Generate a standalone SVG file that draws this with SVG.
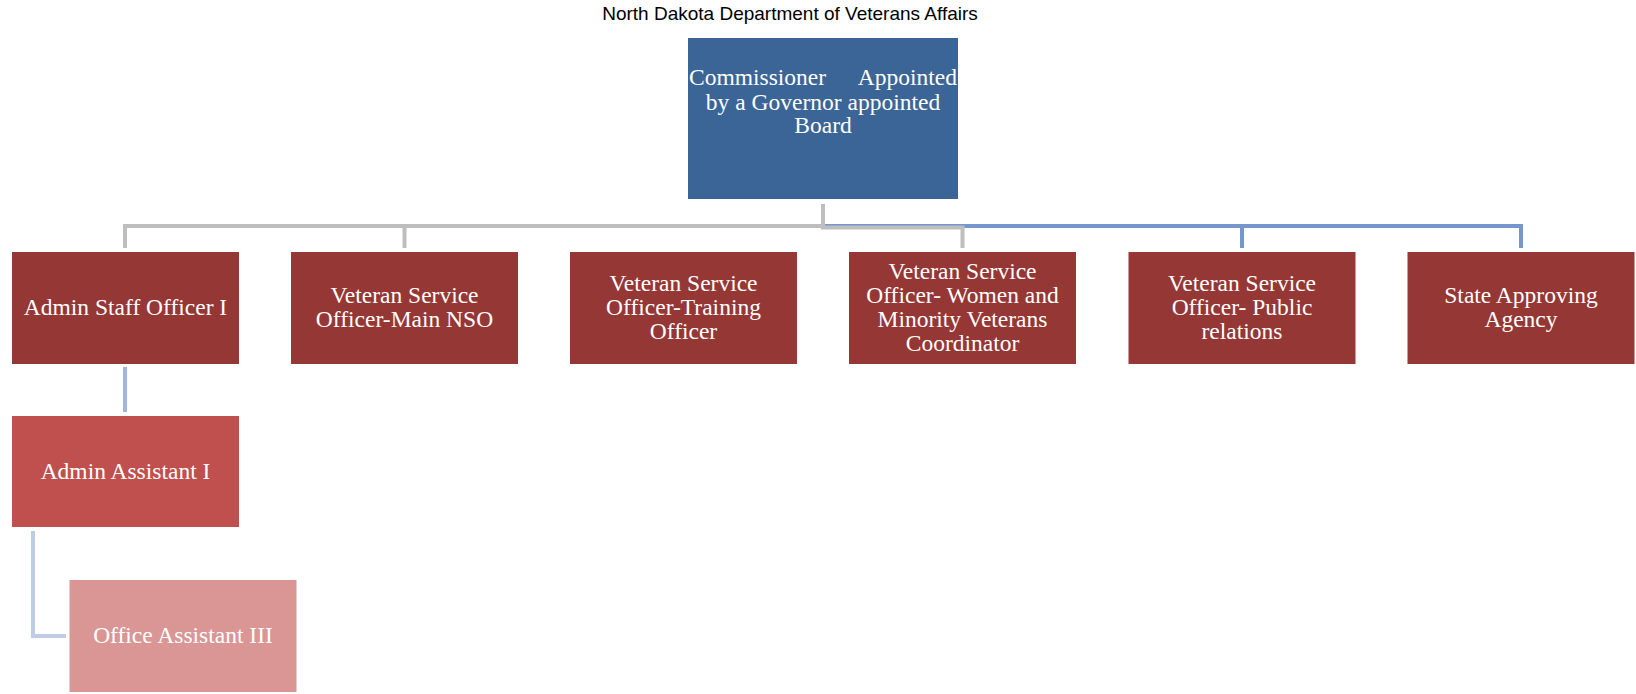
<svg xmlns="http://www.w3.org/2000/svg" width="1636" height="694" viewBox="0 0 1636 694">
<style>
.title{font-family:"Liberation Sans",Arial,sans-serif;font-size:19px;fill:#000}
.lbl{font-family:"Liberation Serif","Times New Roman",serif;font-size:23.5px;fill:#FFFFFF;text-anchor:middle}
.top{fill:#3C6597}
.lvl1{fill:#953735}
.lvl2{fill:#C0504D}
.lvl3{fill:#D99694}
.cg{fill:none;stroke:#BEBEBE;stroke-width:4}
.cb{fill:none;stroke:#7597CC;stroke-width:4}
.cb2{fill:none;stroke:#A0B6DA;stroke-width:4}
.cb3{fill:none;stroke:#BFCDE4;stroke-width:4}
</style>
<rect width="1636" height="694" fill="#FFFFFF"/>
<text class="title" x="790" y="20" text-anchor="middle">North Dakota Department of Veterans Affairs</text>
<g id="connectors">
<path class="cb" d="M823 204 V226 H1242 V248 M1242 226 H1521 V248"/>
<path class="cg" d="M823 204 V226 H125 V248 M404.5 226 V248"/>
<path class="cg" d="M823 226 V227.5 H962.5 V248"/>
<path class="cb2" d="M125 367 V412"/>
<path class="cb3" d="M33 531 V636 H66"/>
</g>
<g id="commissioner">
<rect class="top" x="688" y="38" width="270" height="161"/>
<text class="lbl" y="85"><tspan x="689" text-anchor="start">Commissioner</tspan><tspan x="957" text-anchor="end">Appointed</tspan></text>
<text class="lbl" x="823" y="110">by a Governor appointed</text>
<text class="lbl" x="823" y="133">Board</text>
</g>
<g id="admin-staff-officer">
<rect class="lvl1" x="12" y="252" width="227" height="112"/>
<text class="lbl" x="125.5" y="315">Admin Staff Officer I</text>
</g>
<g id="vso-main-nso">
<rect class="lvl1" x="291" y="252" width="227" height="112"/>
<text class="lbl" x="404.5" y="303">Veteran Service</text>
<text class="lbl" x="404.5" y="327">Officer-Main NSO</text>
</g>
<g id="vso-training">
<rect class="lvl1" x="570" y="252" width="227" height="112"/>
<text class="lbl" x="683.5" y="291">Veteran Service</text>
<text class="lbl" x="683.5" y="315">Officer-Training</text>
<text class="lbl" x="683.5" y="339">Officer</text>
</g>
<g id="vso-women-minority">
<rect class="lvl1" x="849" y="252" width="227" height="112"/>
<text class="lbl" x="962.5" y="279">Veteran Service</text>
<text class="lbl" x="962.5" y="303">Officer- Women and</text>
<text class="lbl" x="962.5" y="327">Minority Veterans</text>
<text class="lbl" x="962.5" y="351">Coordinator</text>
</g>
<g id="vso-public-relations">
<rect class="lvl1" x="1128.5" y="252" width="227" height="112"/>
<text class="lbl" x="1242" y="291">Veteran Service</text>
<text class="lbl" x="1242" y="315">Officer- Public</text>
<text class="lbl" x="1242" y="339">relations</text>
</g>
<g id="state-approving-agency">
<rect class="lvl1" x="1407.5" y="252" width="227" height="112"/>
<text class="lbl" x="1521" y="303">State Approving</text>
<text class="lbl" x="1521" y="327">Agency</text>
</g>
<g id="admin-assistant">
<rect class="lvl2" x="12" y="416" width="227" height="111"/>
<text class="lbl" x="125.5" y="479">Admin Assistant I</text>
</g>
<g id="office-assistant">
<rect class="lvl3" x="69.5" y="580" width="227" height="112"/>
<text class="lbl" x="183" y="643">Office Assistant III</text>
</g>
</svg>
